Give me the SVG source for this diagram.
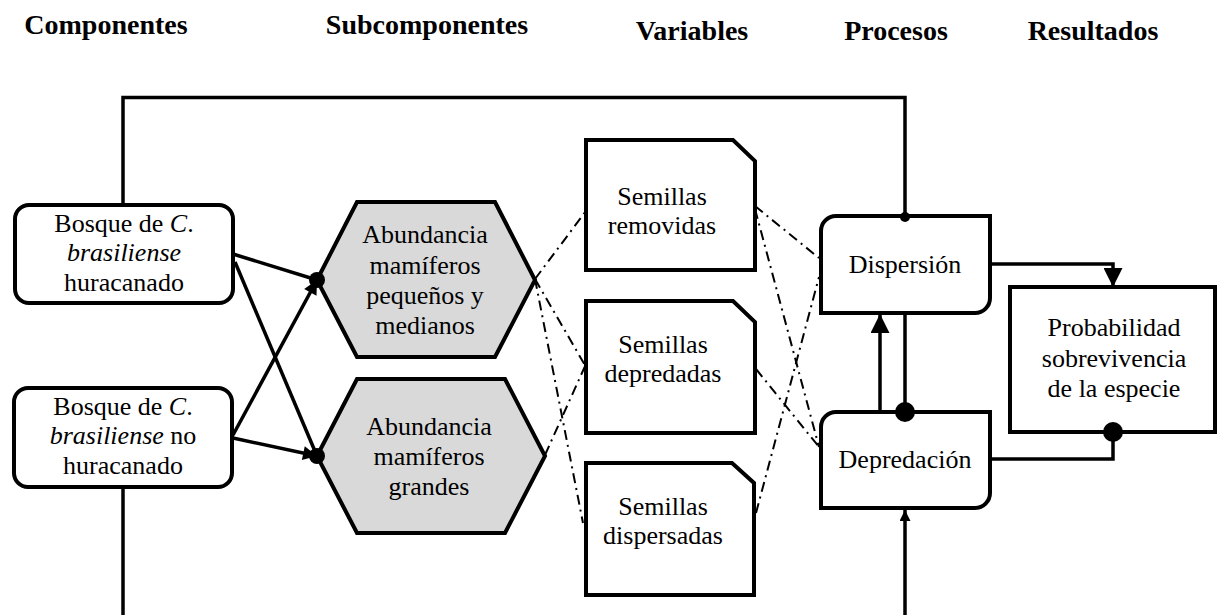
<svg xmlns="http://www.w3.org/2000/svg" width="1217" height="615" viewBox="0 0 1217 615">
<style>
.hdr{font-family:"Liberation Serif","Times New Roman",serif;font-size:28px;font-weight:bold;fill:#000;text-anchor:middle}
.t{font-family:"Liberation Serif","Times New Roman",serif;font-size:26px;fill:#000;text-anchor:middle}
.box{fill:#fff;stroke:#000;stroke-width:4}
.hex{fill:#d9d9d9;stroke:#000;stroke-width:4}
.ln{fill:none;stroke:#000;stroke-width:3.5}
.dd{fill:none;stroke:#000;stroke-width:2;stroke-dasharray:10 5 2 5}
.dot{fill:#000}
</style>
<defs>
<marker id="aBig" viewBox="0 0 20 20" refX="20" refY="10" markerWidth="21" markerHeight="19" markerUnits="userSpaceOnUse" orient="auto"><path d="M0,0 L20,10 L0,20 Z" fill="#000"/></marker>
<marker id="aMid" viewBox="0 0 20 20" refX="20" refY="10" markerWidth="17" markerHeight="14" markerUnits="userSpaceOnUse" orient="auto"><path d="M0,0 L20,10 L0,20 Z" fill="#000"/></marker>
<marker id="aSm" viewBox="0 0 20 20" refX="20" refY="10" markerWidth="12" markerHeight="11" markerUnits="userSpaceOnUse" orient="auto"><path d="M0,0 L20,10 L0,20 Z" fill="#000"/></marker>
</defs>
<rect width="1217" height="615" fill="#fff"/>
<g id="headers">
<text class="hdr" x="106" y="34">Componentes</text>
<text class="hdr" x="427" y="34">Subcomponentes</text>
<text class="hdr" x="692" y="40">Variables</text>
<text class="hdr" x="896" y="40">Procesos</text>
<text class="hdr" x="1093" y="40">Resultados</text>
</g>
<g id="connectors">
<path class="ln" d="M123,205 V97.5 H905 V216"/>
<path class="ln" d="M123,487 V615"/>
<path class="ln" d="M905,615 V510" marker-end="url(#aSm)"/>
<path class="ln" d="M233,254 L317,280"/>
<path class="ln" d="M235,262 L317,456"/>
<path class="ln" d="M233,435 L317,280" marker-end="url(#aMid)"/>
<path class="ln" d="M233,438 L317,456" marker-end="url(#aMid)"/>
<path class="ln" d="M990,264 H1113 V287" marker-end="url(#aBig)"/>
<path class="ln" d="M990,459 H1113 V432"/>
<path class="ln" d="M880,412 V314" marker-end="url(#aBig)"/>
<path class="ln" d="M905,313 V412"/>
<path class="dd" d="M535,279 L586,211"/>
<path class="dd" d="M535,279 L586,367"/>
<path class="dd" d="M535,279 L583,523"/>
<path class="dd" d="M545,455 L586,364"/>
<path class="dd" d="M755,206 L819,258"/>
<path class="dd" d="M755,209 L819,447"/>
<path class="dd" d="M756,369 L819,447"/>
<path class="dd" d="M756,513 L819,277"/>
</g>
<g id="n_bosque_h">
<rect class="box" x="15" y="205" width="218" height="98" rx="14"/>
<text class="t" x="124" y="232">Bosque de <tspan font-style="italic">C</tspan>.</text>
<text class="t" x="124" y="261" font-style="italic">brasiliense</text>
<text class="t" x="124" y="291">huracanado</text>
</g>
<g id="n_bosque_nh">
<rect class="box" x="14" y="388" width="218" height="99" rx="14"/>
<text class="t" x="123" y="415">Bosque de <tspan font-style="italic">C</tspan>.</text>
<text class="t" x="123" y="444"><tspan font-style="italic">brasiliense</tspan> no</text>
<text class="t" x="123" y="474">huracanado</text>
</g>
<g id="n_abund_pm">
<polygon class="hex" points="317,280 357,202 495,202 535,280 495,357 357,357"/>
<text class="t" x="425" y="243">Abundancia</text>
<text class="t" x="425" y="274">mamíferos</text>
<text class="t" x="425" y="304">pequeños y</text>
<text class="t" x="425" y="334">medianos</text>
</g>
<g id="n_abund_g">
<polygon class="hex" points="317,456 357,379 505,379 545,456 505,533 357,533"/>
<text class="t" x="429" y="435">Abundancia</text>
<text class="t" x="429" y="465">mamíferos</text>
<text class="t" x="429" y="495">grandes</text>
</g>
<g id="n_removidas">
<path class="box" d="M586,140 H733 L755,161 V270 H586 Z"/>
<text class="t" x="662" y="205">Semillas</text>
<text class="t" x="662" y="234">removidas</text>
</g>
<g id="n_depredadas">
<path class="box" d="M586,301 H733 L755,322 V433 H586 Z"/>
<text class="t" x="663" y="353">Semillas</text>
<text class="t" x="663" y="382">depredadas</text>
</g>
<g id="n_dispersadas">
<path class="box" d="M586,463 H732 L754,483 V595 H586 Z"/>
<text class="t" x="663" y="515">Semillas</text>
<text class="t" x="663" y="544">dispersadas</text>
</g>
<g id="n_dispersion">
<path class="box" d="M821,231 A15,15 0 0 1 836,216 H990 V298 A15,15 0 0 1 975,313 H821 Z"/>
<text class="t" x="905" y="273">Dispersión</text>
</g>
<g id="n_depredacion">
<path class="box" d="M821,427 A15,15 0 0 1 836,412 H990 V493 A15,15 0 0 1 975,508 H821 Z"/>
<text class="t" x="905" y="468">Depredación</text>
</g>
<g id="n_prob">
<rect class="box" x="1010" y="287" width="205" height="145"/>
<text class="t" x="1114" y="336">Probabilidad</text>
<text class="t" x="1114" y="367">sobrevivencia</text>
<text class="t" x="1114" y="397">de la especie</text>
</g>
<g id="dots">
<circle class="dot" cx="317" cy="280" r="8"/>
<circle class="dot" cx="317" cy="456" r="8"/>
<circle class="dot" cx="905" cy="217" r="5"/>
<circle class="dot" cx="905" cy="412" r="10"/>
<circle class="dot" cx="1113" cy="432" r="10"/>
</g>
</svg>
